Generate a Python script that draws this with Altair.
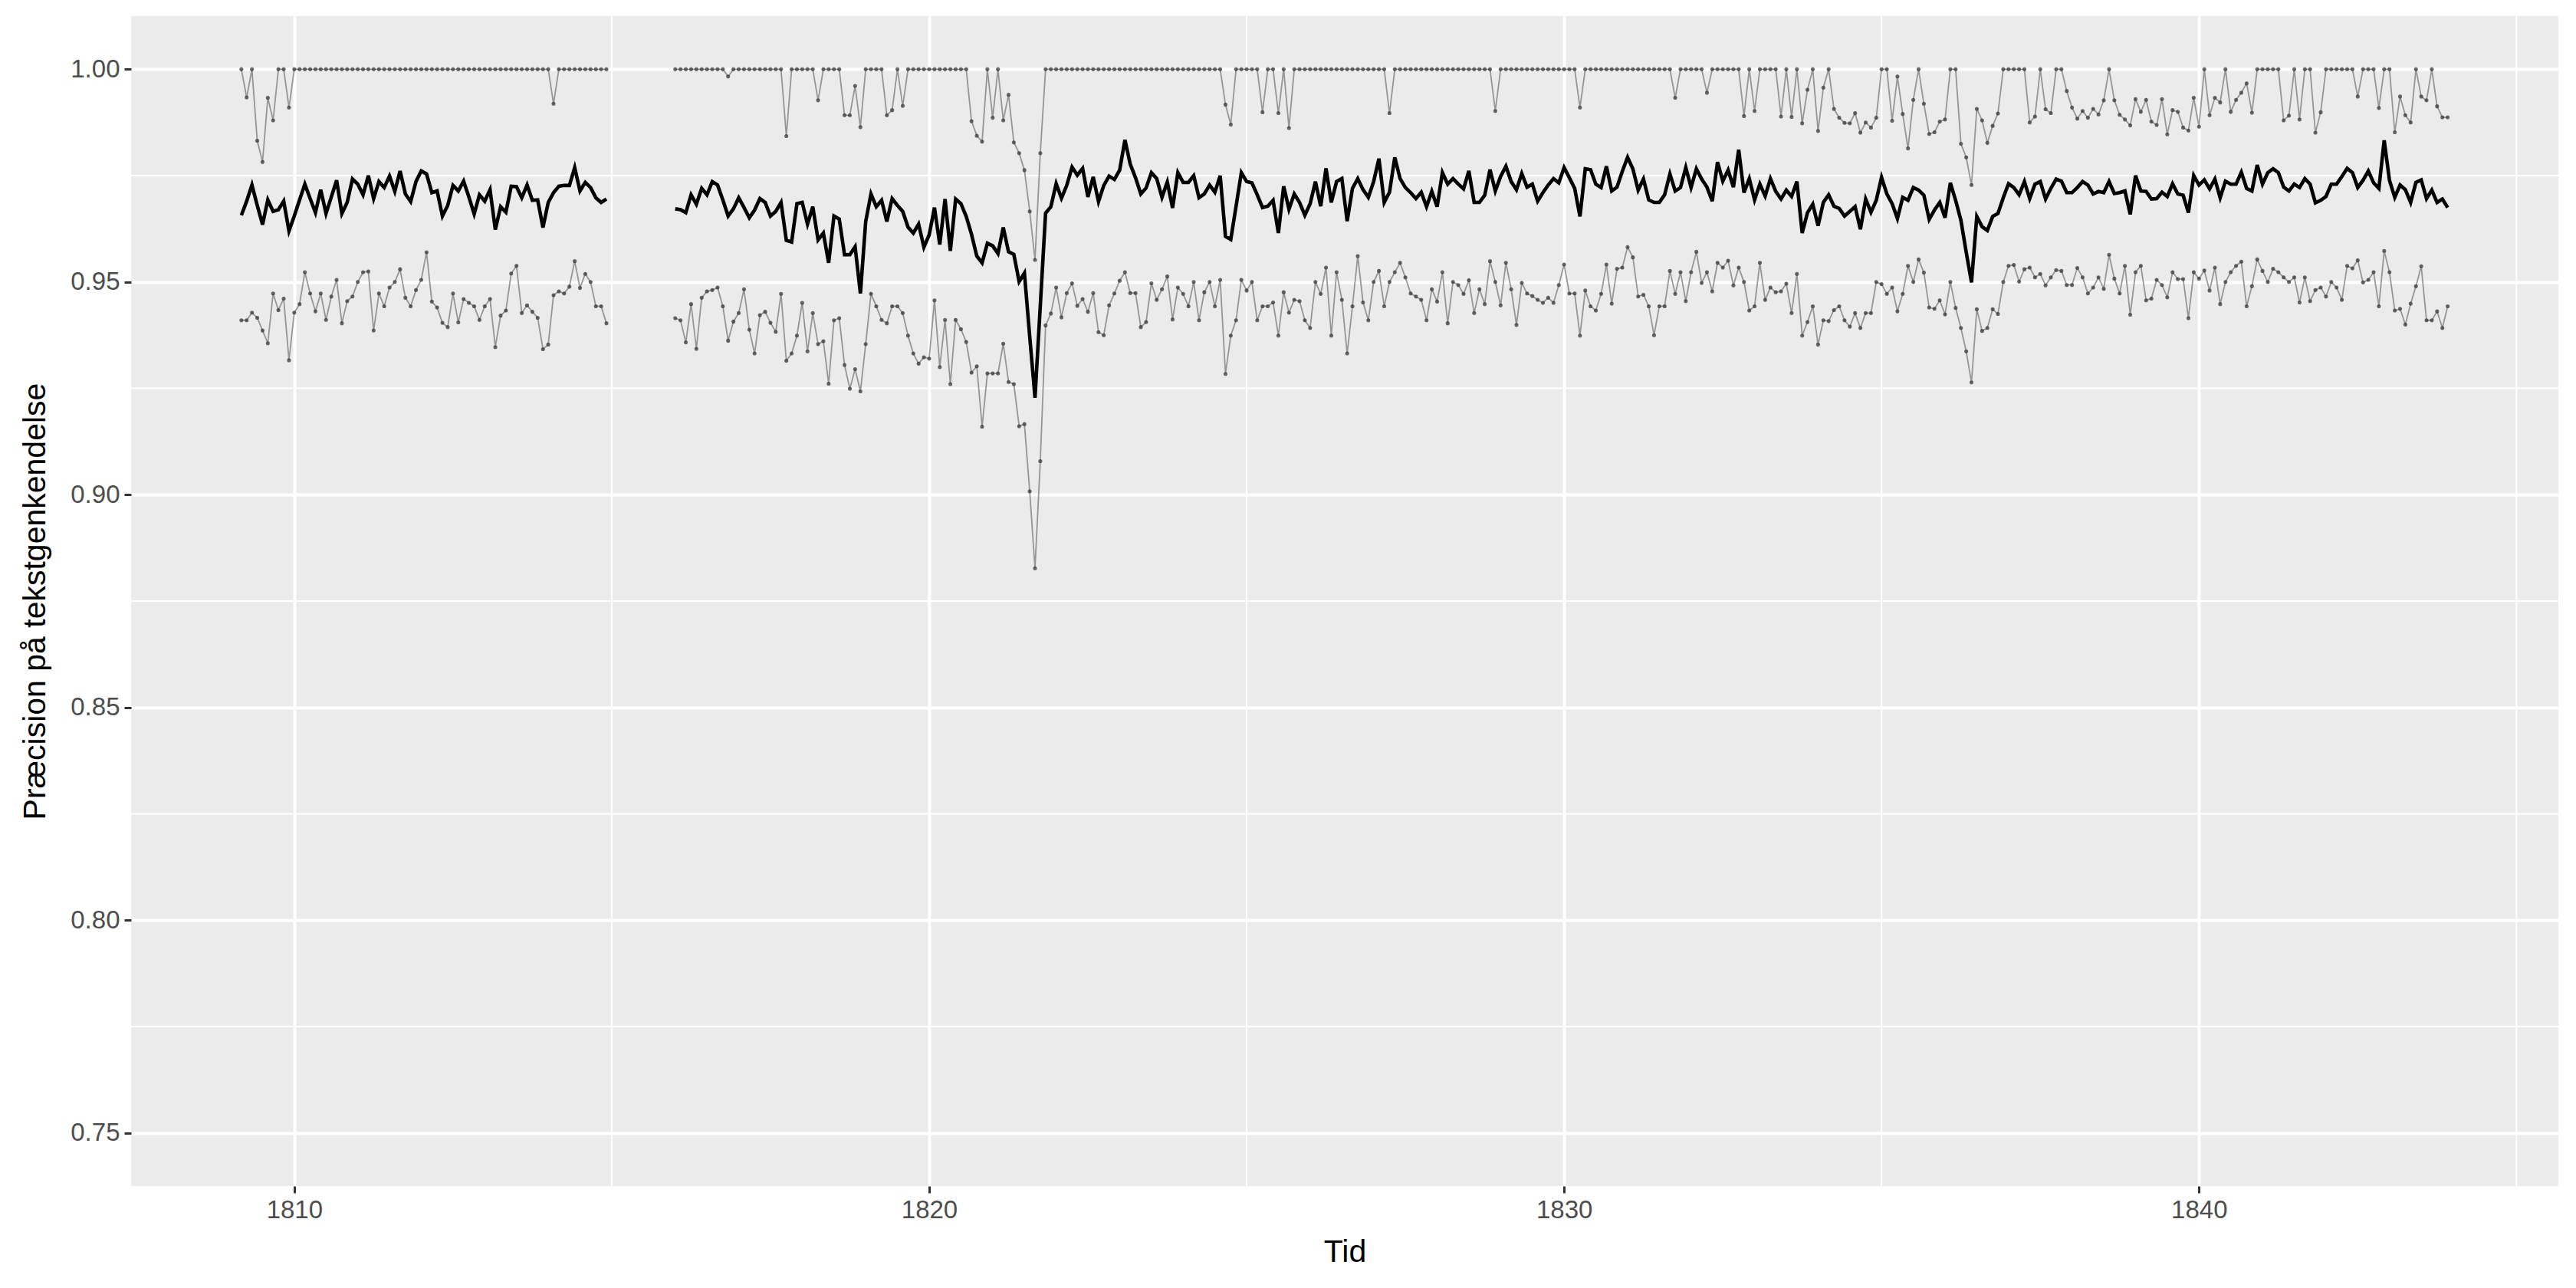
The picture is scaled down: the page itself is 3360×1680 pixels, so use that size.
import altair as alt
import pandas as pd

# ---- data ----
seg1_start = (1809, 3)   # first month of segment 1
seg2_start = (1816, 1)   # first month of segment 2

upper1 = [1.0, 0.9934, 1.0, 0.9832, 0.9782, 0.9933, 0.988, 1.0, 1.0, 0.991] + [1.0] * 49 + [0.9919] + [1.0] * 10
mean1 = [0.9657, 0.969, 0.9728, 0.968, 0.9635, 0.9693, 0.9666, 0.967, 0.969, 0.962,
         0.9655, 0.9693, 0.973, 0.9696, 0.9663, 0.9717, 0.9661, 0.970, 0.9739, 0.9661,
         0.9687, 0.9742, 0.973, 0.9705, 0.975, 0.9696, 0.9736, 0.9722, 0.9749, 0.9713,
         0.9761, 0.9707, 0.9689, 0.9736, 0.9761, 0.9754, 0.971, 0.9714, 0.9655, 0.968,
         0.9727, 0.9714, 0.9737, 0.970, 0.966, 0.9705, 0.969, 0.9717, 0.9623, 0.9677,
         0.9664, 0.9725, 0.9724, 0.9698, 0.9728, 0.9692, 0.9693, 0.9628, 0.9687, 0.971,
         0.9725, 0.9727, 0.9727, 0.9769, 0.9714, 0.9734, 0.9722, 0.9698, 0.9687, 0.9695]
lower1 = [0.941, 0.941, 0.9428, 0.9416, 0.9386, 0.9356, 0.9473, 0.9434, 0.9461, 0.9316,
          0.9428, 0.9448, 0.9523, 0.9473, 0.9431, 0.9473, 0.9411, 0.9466, 0.9505, 0.9403,
          0.9455, 0.9466, 0.950, 0.9523, 0.9525, 0.9386, 0.9473, 0.9443, 0.9487, 0.950,
          0.953, 0.9463, 0.9443, 0.9481, 0.9505, 0.957, 0.9454, 0.944, 0.9404, 0.9394,
          0.9473, 0.9405, 0.946, 0.9451, 0.9443, 0.9411, 0.9443, 0.946, 0.9347, 0.9421,
          0.9433, 0.952, 0.9538, 0.9427, 0.9445, 0.943, 0.9416, 0.9342, 0.9353, 0.9469,
          0.9478, 0.9473, 0.9489, 0.9549, 0.9486, 0.9519, 0.950, 0.9443, 0.9443, 0.9403]

upper2 = [
    1, 1, 1, 1, 1, 1, 1, 1, 1, 1, 0.9983, 1,                                            # 1816
    1, 1, 1, 1, 1, 1, 1, 1, 1, 0.9843, 1, 1,                                            # 1817
    1, 1, 1, 0.9927, 1, 1, 1, 1, 0.9892, 0.9892, 0.9961, 0.9864,                        # 1818
    1, 1, 1, 1, 0.9892, 0.9904, 1, 0.9914, 1, 1, 1, 1,                                  # 1819
    1, 1, 1, 1, 1, 1, 1, 1, 0.9878, 0.9844, 0.983, 1,                                   # 1820
    0.9886, 1, 0.988, 0.994, 0.9828, 0.9803, 0.9763, 0.9666, 0.9552, 0.9803, 1, 1,      # 1821
    1, 1, 1, 1, 1, 1, 1, 1, 1, 1, 1, 1,                                                 # 1822
    1, 1, 1, 1, 1, 1, 1, 1, 1, 1, 1, 1,                                                 # 1823
    1, 1, 1, 1, 1, 1, 1, 1, 0.9917, 0.987, 1, 1,                                        # 1824
    1, 1, 1, 0.9899, 1, 1, 0.9897, 1, 0.9862, 1, 1, 1,                                  # 1825
    1, 1, 1, 1, 1, 1, 1, 1, 1, 1, 1, 1,                                                 # 1826
    1, 1, 1, 0.9897, 1, 1, 1, 1, 1, 1, 1, 1,                                            # 1827
    1, 1, 1, 1, 1, 1, 1, 1, 1, 1, 1, 0.9902,                                            # 1828
    1, 1, 1, 1, 1, 1, 1, 1, 1, 1, 1, 1,                                                 # 1829
    1, 1, 1, 0.991, 1, 1, 1, 1, 1, 1, 1, 1,                                             # 1830
    1, 1, 1, 1, 1, 1, 1, 1, 1, 0.9933, 1, 1,                                            # 1831
    1, 1, 1, 0.9945, 1, 1, 1, 1, 1, 1, 0.989, 1,                                        # 1832
    0.9902, 1, 1, 1, 1, 0.9889, 1, 0.9888, 1, 0.9873, 0.9952, 1,                        # 1833
    0.9855, 0.9957, 1, 0.9907, 0.9886, 0.9874, 0.9873, 0.9897, 0.9851, 0.9875, 0.9863, 0.9886,  # 1834
    1, 1, 0.9879, 0.9983, 0.9895, 0.9814, 0.9928, 1, 0.9919, 0.9848, 0.9852, 0.9877,    # 1835
    0.9882, 1, 1, 0.9825, 0.9793, 0.9728, 0.9907, 0.988, 0.9827, 0.9867, 0.9896, 1,     # 1836
    1, 1, 1, 1, 0.9875, 0.9889, 1, 0.9906, 0.9897, 1, 1, 0.9949,                        # 1837
    0.991, 0.9884, 0.9902, 0.9886, 0.9907, 0.9894, 0.9927, 1, 0.9927, 0.9893, 0.9882, 0.9868,  # 1838
    0.993, 0.99, 0.9928, 0.9877, 0.9869, 0.993, 0.9847, 0.9904, 0.99, 0.9863, 0.9856, 0.9933,  # 1839
    0.9865, 1, 0.9892, 0.9933, 0.9922, 1, 0.99, 0.9928, 0.9945, 0.9967, 0.9898, 1,      # 1840
    1, 1, 1, 1, 0.988, 0.9891, 1, 0.9882, 1, 1, 0.9851, 0.9899,                         # 1841
    1, 1, 1, 1, 1, 1, 0.9936, 1, 1, 1, 0.9909, 1,                                       # 1842
    1, 0.9852, 0.9936, 0.9892, 0.9875, 1, 0.9936, 0.9927, 1, 0.9913, 0.9887, 0.9887,    # 1843
]

mean2 = [
    0.9672, 0.967, 0.9663, 0.9705, 0.9683, 0.972, 0.9705, 0.9736, 0.9728, 0.9693, 0.9655, 0.9672,
    0.9698, 0.9675, 0.9651, 0.9669, 0.9696, 0.9687, 0.9655, 0.9666, 0.9687, 0.9598, 0.9594, 0.9684,
    0.9687, 0.9636, 0.9677, 0.9599, 0.9615, 0.9545, 0.9655, 0.9648, 0.9564, 0.9564, 0.9583, 0.9473,
    0.9642, 0.9707, 0.9677, 0.9692, 0.9642, 0.9696, 0.968, 0.9666, 0.9629, 0.9615, 0.9636, 0.9582,
    0.9611, 0.9675, 0.9588, 0.9695, 0.9573, 0.9695, 0.9684, 0.9654, 0.9612, 0.9561, 0.9545, 0.9591,
    0.9585, 0.9567, 0.9628, 0.9571, 0.9565, 0.9501, 0.9521, 0.9372, 0.9228, 0.9444, 0.9662, 0.9677,
    0.9731, 0.9697, 0.9727, 0.977, 0.9751, 0.9767, 0.970, 0.9747, 0.9689, 0.9727, 0.9749, 0.9741,
    0.9763, 0.9834, 0.9777, 0.9745, 0.9707, 0.9721, 0.9757, 0.9743, 0.9699, 0.9735, 0.9674, 0.9757,
    0.9734, 0.9734, 0.975, 0.9698, 0.9707, 0.9728, 0.9711, 0.975, 0.9607, 0.960, 0.9678, 0.9757,
    0.9736, 0.9733, 0.9705, 0.9675, 0.9678, 0.9692, 0.9615, 0.9725, 0.9671, 0.9707, 0.9687, 0.9657,
    0.9684, 0.9736, 0.9678, 0.9767, 0.9687, 0.9736, 0.9743, 0.9643, 0.972, 0.9743, 0.9717, 0.9699,
    0.9736, 0.979, 0.9687, 0.9711, 0.9793, 0.9743, 0.9722, 0.971, 0.9696, 0.9711, 0.9677, 0.9713,
    0.9677, 0.9757, 0.973, 0.9743, 0.973, 0.9719, 0.9761, 0.9687, 0.9687, 0.9704, 0.9764, 0.9714,
    0.9748, 0.9772, 0.9736, 0.9717, 0.9755, 0.9723, 0.973, 0.969, 0.971, 0.9728, 0.9743, 0.9733,
    0.9769, 0.9745, 0.972, 0.9654, 0.9766, 0.9764, 0.973, 0.9722, 0.9772, 0.9714, 0.9723, 0.976,
    0.9793, 0.9766, 0.9716, 0.9742, 0.9693, 0.9687, 0.9687, 0.9705, 0.9754, 0.9714, 0.9722, 0.9769,
    0.9722, 0.9766, 0.9742, 0.9723, 0.969, 0.9782, 0.9737, 0.9763, 0.9723, 0.9811, 0.971, 0.9743,
    0.9693, 0.973, 0.9702, 0.9743, 0.9713, 0.9695, 0.9716, 0.9701, 0.9736, 0.9615, 0.9663, 0.9683,
    0.9632, 0.9687, 0.9705, 0.9678, 0.9673, 0.9655, 0.9666, 0.9677, 0.9624, 0.9695, 0.9664, 0.9692,
    0.9746, 0.9707, 0.9684, 0.9649, 0.9699, 0.9692, 0.9722, 0.9716, 0.9704, 0.9647, 0.9669, 0.9687,
    0.9651, 0.9733, 0.9692, 0.9645, 0.957, 0.9499, 0.9654, 0.963, 0.9621, 0.9654, 0.9661, 0.9698,
    0.9731, 0.9722, 0.9705, 0.9736, 0.9696, 0.973, 0.9736, 0.9695, 0.972, 0.9742, 0.9737, 0.971,
    0.971, 0.9722, 0.9736, 0.9728, 0.9707, 0.9713, 0.971, 0.9736, 0.9708, 0.971, 0.9714, 0.9659,
    0.975, 0.9714, 0.9713, 0.9695, 0.9696, 0.9711, 0.9701, 0.9731, 0.9707, 0.9704, 0.9663, 0.975,
    0.9728, 0.974, 0.9719, 0.9742, 0.9698, 0.9737, 0.973, 0.973, 0.9758, 0.972, 0.9714, 0.9775,
    0.973, 0.9757, 0.9766, 0.9757, 0.9723, 0.9714, 0.973, 0.9722, 0.9743, 0.973, 0.9686, 0.9692,
    0.9701, 0.973, 0.973, 0.9748, 0.9767, 0.9757, 0.9722, 0.9739, 0.9761, 0.9733, 0.972, 0.9833,
    0.9739, 0.9699, 0.9728, 0.9717, 0.9687, 0.9734, 0.974, 0.9696, 0.9716, 0.9687, 0.9695, 0.9675,
]

lower2 = [
    0.9415, 0.941, 0.9358, 0.9448, 0.9343, 0.9463, 0.9478, 0.9481, 0.9487, 0.9443, 0.9362, 0.9407,
    0.9427, 0.9483, 0.9388, 0.9332, 0.9422, 0.943, 0.9404, 0.9383, 0.9472, 0.9315, 0.9332, 0.9374,
    0.9451, 0.9337, 0.9427, 0.9354, 0.9361, 0.9261, 0.941, 0.9415, 0.9305, 0.9249, 0.9295, 0.9243,
    0.9354, 0.9472, 0.9443, 0.9411, 0.9403, 0.9443, 0.9443, 0.9427, 0.9374, 0.9332, 0.9308, 0.9323,
    0.932, 0.9457, 0.93, 0.9411, 0.926, 0.9411, 0.9389, 0.9359, 0.9287, 0.9302, 0.916, 0.9285,
    0.9285, 0.9285, 0.9355, 0.9265, 0.926, 0.9161, 0.9166, 0.9008, 0.8827, 0.9079, 0.9398, 0.9426,
    0.9487, 0.9417, 0.9474, 0.9497, 0.9444, 0.946, 0.943, 0.9474, 0.9382, 0.9375, 0.9445, 0.9473,
    0.9503, 0.9523, 0.9474, 0.9474, 0.9394, 0.9406, 0.9497, 0.9458, 0.9483, 0.9513, 0.9412, 0.9487,
    0.9472, 0.9443, 0.95, 0.941, 0.9476, 0.95, 0.9443, 0.9505, 0.9284, 0.9374, 0.941, 0.9505,
    0.948, 0.95, 0.941, 0.9443, 0.9443, 0.9452, 0.9374, 0.9476, 0.9428, 0.9458, 0.9455, 0.941,
    0.9392, 0.95, 0.9472, 0.9534, 0.9374, 0.9523, 0.9458, 0.9332, 0.9443, 0.9561, 0.9452, 0.941,
    0.95, 0.9526, 0.9443, 0.95, 0.9523, 0.9545, 0.9511, 0.9473, 0.9466, 0.9458, 0.941, 0.9483,
    0.9454, 0.9523, 0.9403, 0.95, 0.9493, 0.9472, 0.9504, 0.9427, 0.9483, 0.9448, 0.9549, 0.95,
    0.9445, 0.9545, 0.9483, 0.9399, 0.9498, 0.9473, 0.9467, 0.9458, 0.9451, 0.9463, 0.9451, 0.9493,
    0.9541, 0.9473, 0.9473, 0.9374, 0.948, 0.9443, 0.9433, 0.9472, 0.9541, 0.9449, 0.9531, 0.9534,
    0.9582, 0.9558, 0.9466, 0.947, 0.9443, 0.9375, 0.9443, 0.9443, 0.9526, 0.9472, 0.9523, 0.9455,
    0.9523, 0.9571, 0.9498, 0.9523, 0.9478, 0.9545, 0.9534, 0.955, 0.9492, 0.9534, 0.95, 0.9433,
    0.9443, 0.9545, 0.9458, 0.9487, 0.9476, 0.9478, 0.9496, 0.9427, 0.9519, 0.9374, 0.9406, 0.9443,
    0.9353, 0.941, 0.9408, 0.9434, 0.9443, 0.941, 0.9395, 0.9427, 0.9392, 0.9427, 0.9427, 0.95,
    0.9495, 0.9472, 0.9487, 0.9431, 0.9472, 0.9538, 0.95, 0.9553, 0.9522, 0.944, 0.9437, 0.9457,
    0.9424, 0.95, 0.9439, 0.9392, 0.9337, 0.9264, 0.9436, 0.9385, 0.9392, 0.9436, 0.9425, 0.95,
    0.9538, 0.954, 0.9501, 0.953, 0.9534, 0.9511, 0.9519, 0.9492, 0.9511, 0.9528, 0.9526, 0.9493,
    0.9493, 0.9533, 0.9511, 0.9473, 0.9487, 0.9511, 0.9484, 0.9564, 0.9508, 0.9473, 0.9538, 0.9423,
    0.9523, 0.9538, 0.9457, 0.9461, 0.9505, 0.9493, 0.9464, 0.9523, 0.9507, 0.9507, 0.9415, 0.9523,
    0.9508, 0.9527, 0.948, 0.9534, 0.9448, 0.95, 0.9523, 0.9538, 0.9548, 0.9443, 0.949, 0.9553,
    0.9526, 0.95, 0.9531, 0.9523, 0.9511, 0.95, 0.9511, 0.9452, 0.9511, 0.9455, 0.9481, 0.9487,
    0.9466, 0.95, 0.9487, 0.9458, 0.9538, 0.9532, 0.9551, 0.9499, 0.9505, 0.9523, 0.9443, 0.9573,
    0.9523, 0.9433, 0.9437, 0.94, 0.9449, 0.949, 0.9537, 0.941, 0.941, 0.9431, 0.9392, 0.9443,
]

x_ticks = [1810, 1820, 1830, 1840]
x_minor = [1815, 1825, 1835, 1845]
y_ticks = [0.75, 0.80, 0.85, 0.90, 0.95, 1.00]
y_minor = [0.775, 0.825, 0.875, 0.925, 0.975]
x_domain = [1807.43, 1845.66]
y_domain = [0.7375, 1.0125]


def months(start, n):
    y, m = start
    return [y + (m - 1 + k) / 12 for k in range(n)]


rows = []
for seg, start, series in [
    (1, seg1_start, {"upper": upper1, "mean": mean1, "lower": lower1}),
    (2, seg2_start, {"upper": upper2, "mean": mean2, "lower": lower2}),
]:
    for name, vals in series.items():
        for t, v in zip(months(start, len(vals)), vals):
            rows.append({"t": t, "v": v, "series": name, "seg": f"{name}{seg}"})
df = pd.DataFrame(rows)

FONT = "Liberation Sans"

xscale = alt.Scale(domain=x_domain, nice=False, zero=False)
yscale = alt.Scale(domain=y_domain, nice=False, zero=False)

x_enc = alt.X("t:Q", scale=xscale, title="Tid",
              axis=alt.Axis(values=x_ticks, format="d"))
y_enc = alt.Y("v:Q", scale=yscale, title="Præcision på tekstgenkendelse",
              axis=alt.Axis(values=y_ticks, format=".2f"))

vgrid = alt.Chart(pd.DataFrame({"t": x_minor})).mark_rule(
    color="white", strokeWidth=2).encode(x=alt.X("t:Q", scale=xscale))
hgrid = alt.Chart(pd.DataFrame({"v": y_minor})).mark_rule(
    color="white", strokeWidth=2).encode(y=alt.Y("v:Q", scale=yscale))

band = df[df.series != "mean"]
grey_lines = alt.Chart(band).mark_line(
    color="#7a7a7a", strokeWidth=1.8, opacity=0.75).encode(
    x=x_enc, y=y_enc, detail="seg:N", order="t:Q")
grey_pts = alt.Chart(band).mark_circle(
    color="#3a3a3a", size=26, opacity=0.75).encode(x=x_enc, y=y_enc)
mean_line = alt.Chart(df[df.series == "mean"]).mark_line(
    color="black", strokeWidth=4.6).encode(
    x=x_enc, y=y_enc, detail="seg:N", order="t:Q")

chart = alt.layer(vgrid, hgrid, grey_lines, grey_pts, mean_line).properties(
    width=3166, height=1526,
    padding={"left": 163, "top": 13, "right": 15, "bottom": 115},
    autosize=alt.AutoSizeParams(type="none"),
    background="white",
).configure_view(
    fill="#EBEBEB", stroke=None
).configure_axis(
    domain=False,
    grid=True, gridColor="white", gridWidth=4,
    tickColor="#333333", tickSize=9, tickWidth=3,
    labelFont=FONT, labelFontSize=33, labelColor="#4D4D4D", labelPadding=6,
    titleFont=FONT, titleFontSize=41, titleColor="black", titleFontWeight="normal",
).configure_axisX(
    titlePadding=18,
).configure_axisY(
    titlePadding=24,
)

chart.save("out.html", embed_options={"renderer": "svg", "actions": False})
